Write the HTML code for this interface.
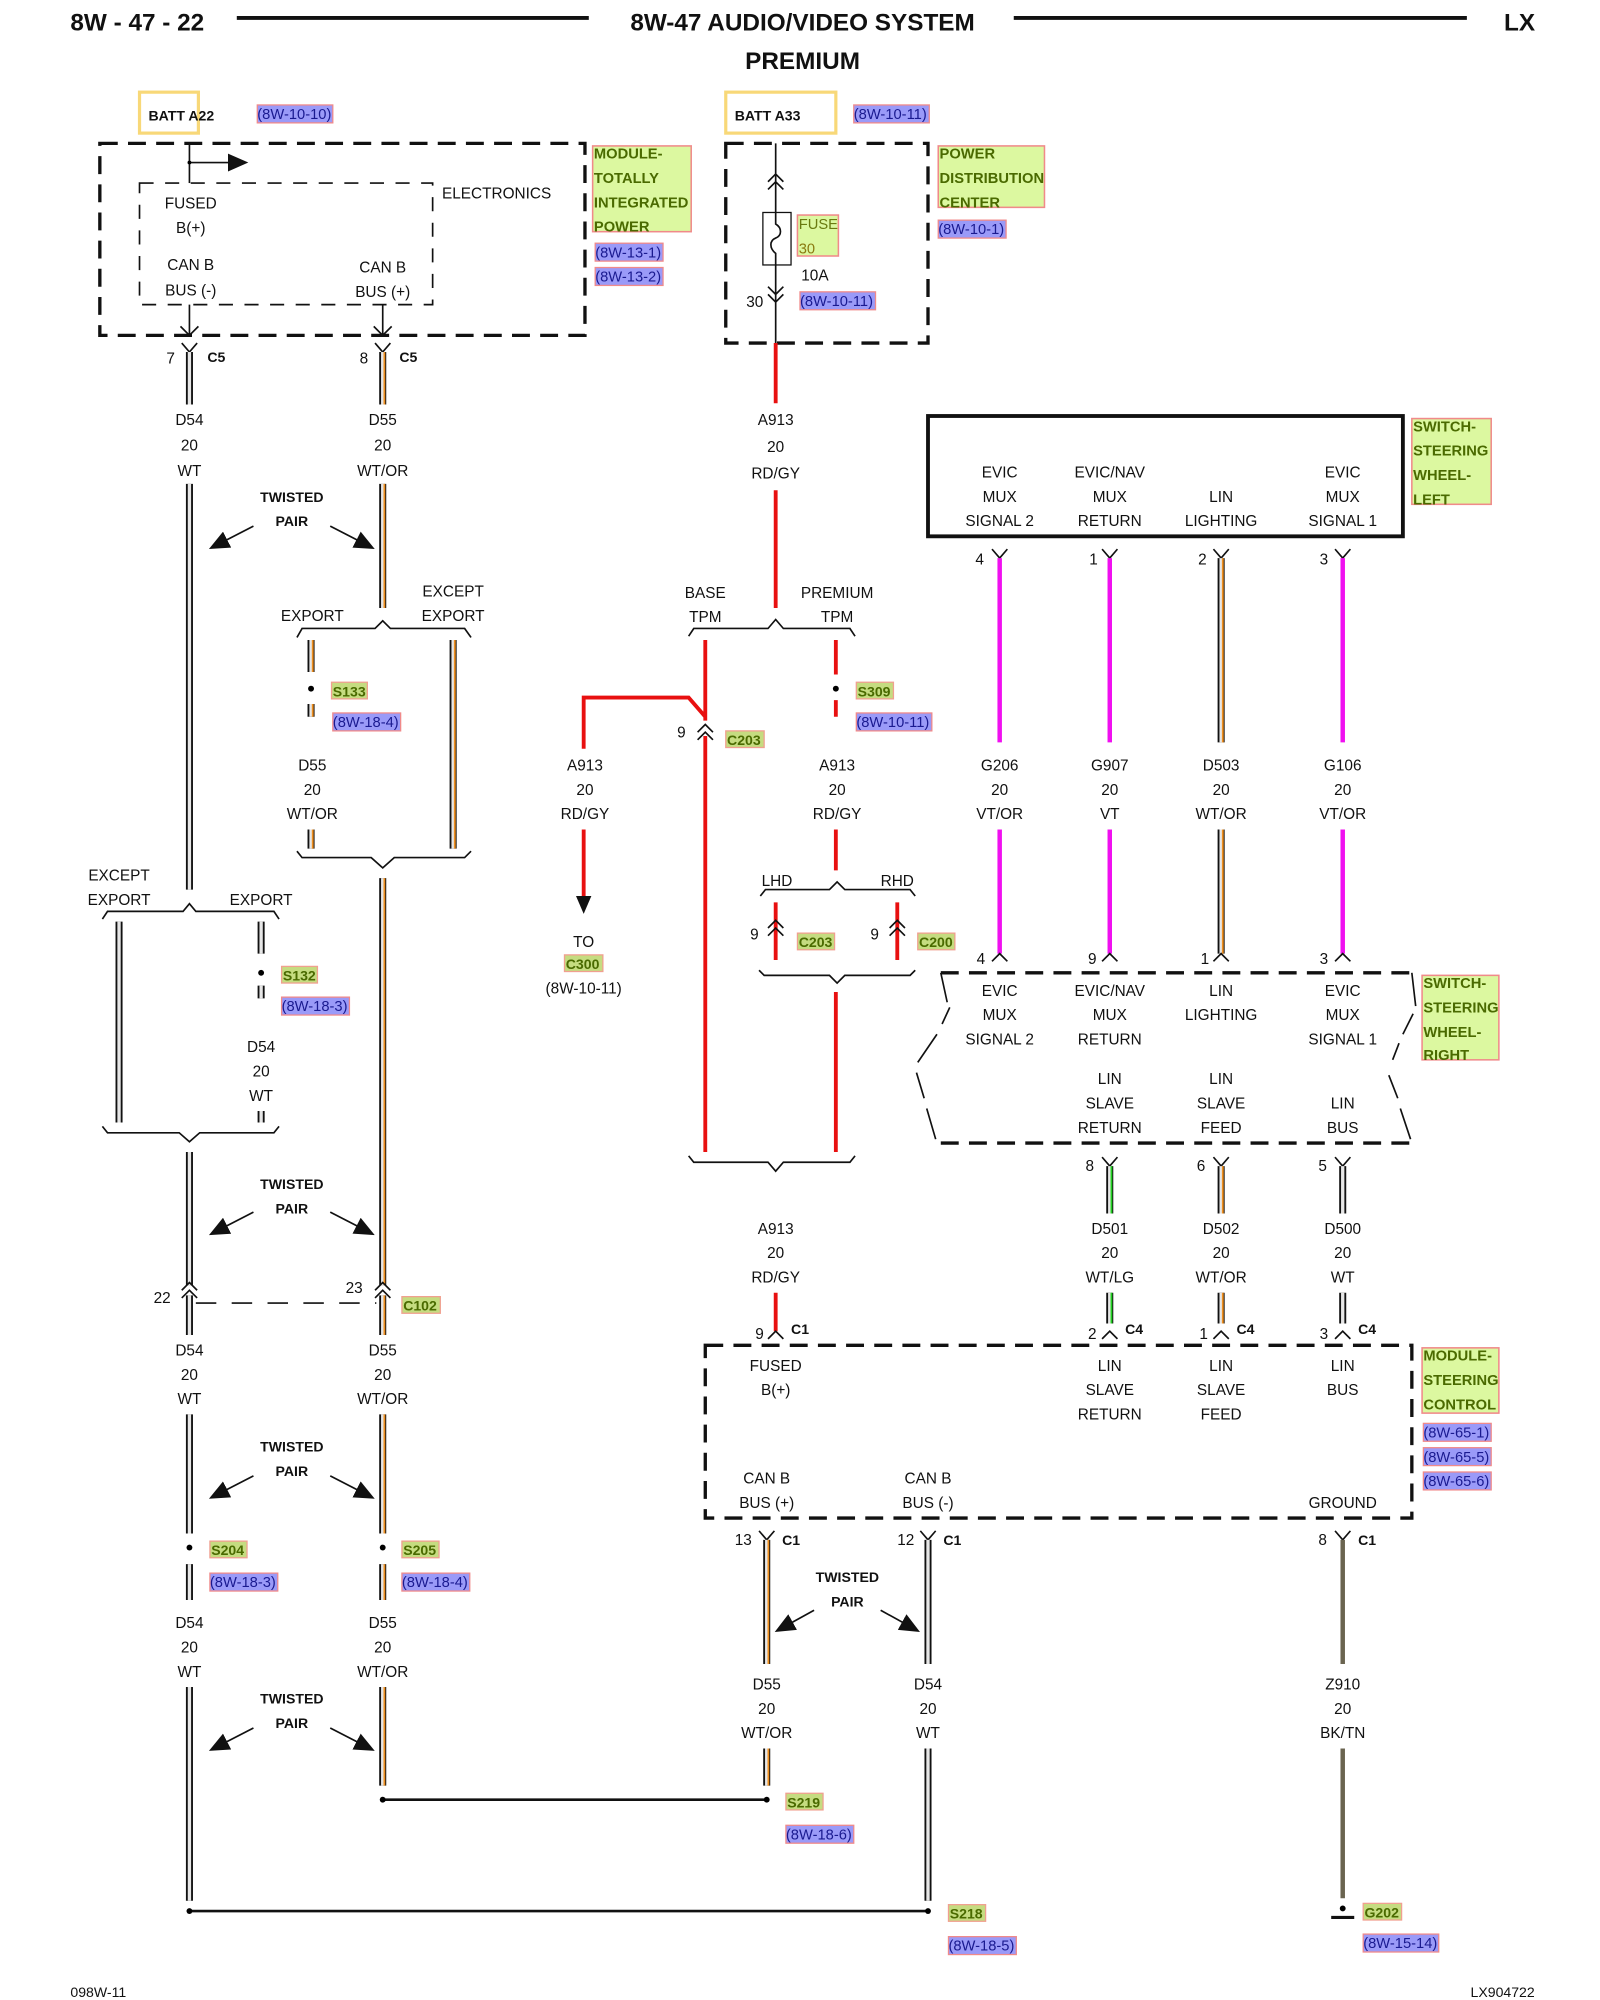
<!DOCTYPE html>
<html><head><meta charset="utf-8"><style>
html,body{margin:0;padding:0;background:#fff}
svg{display:block}
text{font-family:"Liberation Sans",Arial,sans-serif;font-size:12px;fill:#111}
.c{text-anchor:middle}
.b{font-weight:bold}
.h{font-size:19px;font-weight:bold}
.k{stroke:#111;stroke-width:5.5;fill:none}
.w{stroke:#e6e6e6;stroke-width:2.6;fill:none}
.o{stroke:#f09020;stroke-width:1.4;fill:none}
.g{stroke:#20d020;stroke-width:1.4;fill:none}
.r{stroke:#e81010;stroke-width:3;fill:none}
.m{stroke:#f010f0;stroke-width:3.5;fill:none}
.bt{stroke:#6a6450;stroke-width:3.5;fill:none}
.ln{stroke:#111;stroke-width:1.3;fill:none}
.ref rect{fill:#9a9af8;stroke:#f08a8a;stroke-width:1}
.ref text{fill:#1a1a90;font-size:11.5px}
.sp rect{fill:#c5dc80;stroke:#f0a090;stroke-width:1}
.sp text{fill:#4a6a00;font-size:11px;font-weight:bold}
.gl rect{fill:#dcf8a0;stroke:#f08a8a;stroke-width:1.2}
.gl text{fill:#4a6a00;font-size:11.5px;font-weight:bold}
.dsh{stroke:#111;stroke-width:2.6;fill:none;stroke-dasharray:14 8}
.dsh2{stroke:#111;stroke-width:1.3;fill:none;stroke-dasharray:11 9}
</style></head><body>
<svg width="1600" height="2000" viewBox="0 0 1250 1562.5" preserveAspectRatio="none" xmlns="http://www.w3.org/2000/svg">
<defs>
<marker id="ah2" markerWidth="16" markerHeight="14" refX="14" refY="7" orient="auto" markerUnits="userSpaceOnUse"><path d="M0,0 L16,7 L0,14 z" fill="#111"/></marker>
</defs>
<text x="55" y="24" class="h">8W - 47 - 22</text>
<line x1="185" y1="14" x2="460" y2="14" stroke="#111" stroke-width="3"/>
<text x="627" y="24" class="h c">8W-47 AUDIO/VIDEO SYSTEM</text>
<line x1="792" y1="14" x2="1146" y2="14" stroke="#111" stroke-width="3"/>
<text x="1175" y="24" class="h">LX</text>
<text x="627" y="54" class="h c">PREMIUM</text>

<rect x="109" y="72" width="46" height="32" fill="none" stroke="#f8d878" stroke-width="2.5"/>
<text x="116" y="94" class="b" style="font-size:11px">BATT A22</text>
<g class="ref"><rect x="201" y="82" width="59" height="14"/><text x="201" y="93">(8W-10-10)</text></g>
<rect x="78" y="112" width="379" height="150" class="dsh"/>
<rect x="109" y="143" width="229" height="95" class="dsh2"/>
<line x1="148" y1="112" x2="148" y2="143" class="ln"/>
<line x1="148" y1="127" x2="192" y2="127" class="ln" marker-end="url(#ah2)"/>
<circle cx="148" cy="127" r="1.5"/>
<text x="149" y="163" class="c">FUSED</text><text x="149" y="182" class="c">B(+)</text>
<text x="149" y="211" class="c">CAN B</text><text x="149" y="231" class="c">BUS (-)</text>
<text x="299" y="213" class="c">CAN B</text><text x="299" y="232" class="c">BUS (+)</text>
<text x="388" y="155" class="c">ELECTRONICS</text>
<path d="M148 238V262M141 255L148 262L155 255M299 238V262M292 255L299 262L306 255" class="ln"/>
<g class="gl"><rect x="463" y="114" width="77" height="67"/><text x="464" y="124">MODULE-</text><text x="464" y="143">TOTALLY</text><text x="464" y="162">INTEGRATED</text><text x="464" y="181">POWER</text></g>
<g class="ref"><rect x="465" y="190" width="53" height="14"/><text x="465" y="201">(8W-13-1)</text><rect x="465" y="209" width="53" height="14"/><text x="465" y="220">(8W-13-2)</text></g>

<path d="M142 268L148 275L154 268M293 268L299 275L305 268" class="ln"/>
<text x="130" y="284">7</text><text x="162" y="283" class="b" style="font-size:11px">C5</text>
<text x="281" y="284">8</text><text x="312" y="283" class="b" style="font-size:11px">C5</text>

<path d="M148 275V316M148 378V695M148 900V1004M148 1012V1043M148 1105V1198M148 1318V1485" class="k"/>
<path d="M148 275V316M148 378V695M148 900V1004M148 1012V1043M148 1105V1198M148 1318V1485" class="w"/>
<path d="M299 275V316M299 378V475M299 686V1004M299 1012V1043M299 1105V1198M299 1318V1395" class="k"/>
<path d="M299 275V316M299 378V475M299 686V1004M299 1012V1043M299 1105V1198M299 1318V1395" class="w"/>
<path d="M300.3 275V316M300.3 378V475M300.3 686V1004M300.3 1012V1043M300.3 1105V1198M300.3 1318V1395" class="o"/>
<text x="148" y="332" class="c">D54</text><text x="148" y="352" class="c">20</text><text x="148" y="372" class="c">WT</text>
<text x="299" y="332" class="c">D55</text><text x="299" y="352" class="c">20</text><text x="299" y="372" class="c">WT/OR</text>

<g>
<text x="228" y="392" class="c b" style="font-size:11px">TWISTED</text><text x="228" y="411" class="c b" style="font-size:11px">PAIR</text>
<line x1="198" y1="411" x2="165" y2="428" class="ln" marker-end="url(#ah2)"/><line x1="258" y1="411" x2="291" y2="428" class="ln" marker-end="url(#ah2)"/>
<text x="228" y="929" class="c b" style="font-size:11px">TWISTED</text><text x="228" y="948" class="c b" style="font-size:11px">PAIR</text>
<line x1="198" y1="947" x2="165" y2="964" class="ln" marker-end="url(#ah2)"/><line x1="258" y1="947" x2="291" y2="964" class="ln" marker-end="url(#ah2)"/>
<text x="228" y="1134" class="c b" style="font-size:11px">TWISTED</text><text x="228" y="1153" class="c b" style="font-size:11px">PAIR</text>
<line x1="198" y1="1153" x2="165" y2="1170" class="ln" marker-end="url(#ah2)"/><line x1="258" y1="1153" x2="291" y2="1170" class="ln" marker-end="url(#ah2)"/>
<text x="228" y="1331" class="c b" style="font-size:11px">TWISTED</text><text x="228" y="1350" class="c b" style="font-size:11px">PAIR</text>
<line x1="198" y1="1350" x2="165" y2="1367" class="ln" marker-end="url(#ah2)"/><line x1="258" y1="1350" x2="291" y2="1367" class="ln" marker-end="url(#ah2)"/>
</g>

<text x="244" y="485" class="c">EXPORT</text><text x="354" y="466" class="c">EXCEPT</text><text x="354" y="485" class="c">EXPORT</text>
<path d="M232 498L236 491H293L299 485L305 491H363L368 498" class="ln"/>
<path d="M243 500V525M243 550V560M243 648V663M354 500V663" class="k"/>
<path d="M243 500V525M243 550V560M243 648V663M354 500V663" class="w"/>
<path d="M244.3 500V525M244.3 550V560M244.3 648V663M355.3 500V663" class="o"/>
<circle cx="243" cy="538" r="2.3"/>
<g class="sp"><rect x="259" y="533" width="28" height="13"/><text x="260" y="544">S133</text></g>
<g class="ref"><rect x="260" y="557" width="53" height="14"/><text x="260" y="568">(8W-18-4)</text></g>
<text x="244" y="602" class="c">D55</text><text x="244" y="621" class="c">20</text><text x="244" y="640" class="c">WT/OR</text>
<path d="M232 665L236 670H290L299 678L308 670H363L368 665" class="ln"/>

<text x="93" y="688" class="c">EXCEPT</text><text x="93" y="707" class="c">EXPORT</text><text x="204" y="707" class="c">EXPORT</text>
<path d="M80 718L84 712H143L148 706L153 712H214L218 718" class="ln"/>
<path d="M93 720V877M204 720V745M204 770V780M204 868V877" class="k"/>
<path d="M93 720V877M204 720V745M204 770V780M204 868V877" class="w"/>
<circle cx="204" cy="760" r="2.3"/>
<g class="sp"><rect x="220" y="755" width="28" height="13"/><text x="221" y="766">S132</text></g>
<g class="ref"><rect x="220" y="779" width="53" height="14"/><text x="220" y="790">(8W-18-3)</text></g>
<text x="204" y="822" class="c">D54</text><text x="204" y="841" class="c">20</text><text x="204" y="860" class="c">WT</text>
<path d="M80 880L84 885H140L148 892L156 885H214L218 880" class="ln"/>

<path d="M142 1008L148 1002L154 1008M142 1014L148 1008L154 1014M293 1008L299 1002L305 1008M293 1014L299 1008L305 1014" class="ln"/>
<line x1="153" y1="1018" x2="294" y2="1018" class="ln" stroke-dasharray="16 12"/>
<text x="120" y="1018">22</text><text x="270" y="1010">23</text>
<g class="sp"><rect x="314" y="1013" width="30" height="13"/><text x="315" y="1024">C102</text></g>
<text x="148" y="1059" class="c">D54</text><text x="148" y="1078" class="c">20</text><text x="148" y="1097" class="c">WT</text>
<text x="299" y="1059" class="c">D55</text><text x="299" y="1078" class="c">20</text><text x="299" y="1097" class="c">WT/OR</text>
<rect x="143" y="1201" width="10" height="14" fill="#fff"/><rect x="294" y="1201" width="10" height="14" fill="#fff"/>
<circle cx="148" cy="1209" r="2.3"/><circle cx="299" cy="1209" r="2.3"/>
<path d="M148 1222V1250M299 1222V1250" class="k"/><path d="M148 1222V1250M299 1222V1250" class="w"/><path d="M300.3 1222V1250" class="o"/>
<rect x="120" y="1256" width="60" height="58" fill="#fff"/><rect x="270" y="1256" width="60" height="58" fill="#fff"/>
<g class="sp"><rect x="164" y="1204" width="29" height="13"/><text x="165" y="1215">S204</text><rect x="314" y="1204" width="29" height="13"/><text x="315" y="1215">S205</text></g>
<g class="ref"><rect x="164" y="1229" width="53" height="14"/><text x="164" y="1240">(8W-18-3)</text><rect x="314" y="1229" width="53" height="14"/><text x="314" y="1240">(8W-18-4)</text></g>
<text x="148" y="1272" class="c">D54</text><text x="148" y="1291" class="c">20</text><text x="148" y="1310" class="c">WT</text>
<text x="299" y="1272" class="c">D55</text><text x="299" y="1291" class="c">20</text><text x="299" y="1310" class="c">WT/OR</text>
<line x1="299" y1="1406" x2="599" y2="1406" stroke="#111" stroke-width="2"/>
<circle cx="299" cy="1406" r="2.3"/><circle cx="599" cy="1406" r="2.3"/>
<line x1="148" y1="1493" x2="725" y2="1493" stroke="#111" stroke-width="2"/>
<circle cx="148" cy="1493" r="2.3"/><circle cx="725" cy="1493" r="2.3"/>

<rect x="567" y="72" width="86" height="32" fill="none" stroke="#f8d878" stroke-width="2.5"/>
<text x="574" y="94" class="b" style="font-size:11px">BATT A33</text>
<g class="ref"><rect x="667" y="82" width="59" height="14"/><text x="667" y="93">(8W-10-11)</text></g>
<rect x="567" y="112" width="158" height="156" class="dsh"/>
<line x1="606" y1="112" x2="606" y2="268" class="ln"/>
<path d="M600 142L606 136L612 142M600 148L606 142L612 148" class="ln"/>
<rect x="596" y="166" width="22" height="41" fill="#fff" stroke="#111" stroke-width="1"/>
<path d="M606 166V175C611 178 611 184 606 186C601 188 601 194 606 198V207" class="ln"/>
<path d="M600 224L606 230L612 224M600 230L606 236L612 230" class="ln"/>
<g class="gl"><rect x="623" y="168" width="32" height="32"/><text x="624" y="179" style="font-weight:normal;fill:#6a7a10">FUSE</text><text x="624" y="198" style="font-weight:normal;fill:#8a7a10">30</text></g>
<text x="626" y="219">10A</text><text x="583" y="240">30</text>
<g class="ref"><rect x="625" y="228" width="59" height="14"/><text x="625" y="239">(8W-10-11)</text></g>
<g class="gl"><rect x="733" y="114" width="83" height="48"/><text x="734" y="124">POWER</text><text x="734" y="143">DISTRIBUTION</text><text x="734" y="162">CENTER</text></g>
<g class="ref"><rect x="733" y="172" width="53" height="14"/><text x="733" y="183">(8W-10-1)</text></g>

<path d="M606 268V315M606 383V475M551 500V563M551 575V900M653 500V527M653 547V560M653 648V680M606 705V750M701 705V750M653 775V900M606 1010V1040M456 648V700M456 585V545H538L551 560" class="r"/>
<polygon points="450,700 462,700 456,714" fill="#111"/>
<text x="606" y="332" class="c">A913</text><text x="606" y="353" class="c">20</text><text x="606" y="374" class="c">RD/GY</text>
<text x="551" y="467" class="c">BASE</text><text x="551" y="486" class="c">TPM</text>
<text x="654" y="467" class="c">PREMIUM</text><text x="654" y="486" class="c">TPM</text>
<path d="M538 497L542 491H600L606 484L612 491H664L668 497" class="ln"/>
<path d="M545 572L551 566L557 572M545 578L551 572L557 578" class="ln"/>
<text x="529" y="576">9</text>
<g class="sp"><rect x="567" y="571" width="30" height="13"/><text x="568" y="582">C203</text></g>
<circle cx="653" cy="538" r="2.3"/>
<g class="sp"><rect x="669" y="533" width="29" height="13"/><text x="670" y="544">S309</text></g>
<g class="ref"><rect x="669" y="557" width="59" height="14"/><text x="669" y="568">(8W-10-11)</text></g>
<text x="457" y="602" class="c">A913</text><text x="457" y="621" class="c">20</text><text x="457" y="640" class="c">RD/GY</text>
<text x="654" y="602" class="c">A913</text><text x="654" y="621" class="c">20</text><text x="654" y="640" class="c">RD/GY</text>
<text x="456" y="740" class="c">TO</text>
<g class="sp"><rect x="441" y="746" width="30" height="13"/><text x="442" y="757">C300</text></g>
<text x="456" y="776" class="c">(8W-10-11)</text>
<text x="607" y="692" class="c">LHD</text><text x="701" y="692" class="c">RHD</text>
<path d="M594 700L598 695H648L654 689L660 695H711L715 700" class="ln"/>
<path d="M600 725L606 719L612 725M600 731L606 725L612 731M695 725L701 719L707 725M695 731L701 725L707 731" class="ln"/>
<text x="586" y="734">9</text><text x="680" y="734">9</text>
<g class="sp"><rect x="623" y="729" width="29" height="13"/><text x="624" y="740">C203</text><rect x="717" y="729" width="29" height="13"/><text x="718" y="740">C200</text></g>
<path d="M593 758L597 762H648L654 768L660 762H711L715 758" class="ln"/>
<path d="M538 903L542 908H600L606 915L612 908H664L668 903" class="ln"/>
<text x="606" y="964" class="c">A913</text><text x="606" y="983" class="c">20</text><text x="606" y="1002" class="c">RD/GY</text>
<path d="M600 1046L606 1040L612 1046" class="ln"/>
<text x="590" y="1046">9</text><text x="618" y="1042" class="b" style="font-size:11px">C1</text>

<rect x="725" y="325" width="371" height="94" fill="none" stroke="#111" stroke-width="3"/>
<text x="781" y="373" class="c">EVIC</text><text x="781" y="392" class="c">MUX</text><text x="781" y="411" class="c">SIGNAL 2</text>
<text x="867" y="373" class="c">EVIC/NAV</text><text x="867" y="392" class="c">MUX</text><text x="867" y="411" class="c">RETURN</text>
<text x="954" y="392" class="c">LIN</text><text x="954" y="411" class="c">LIGHTING</text>
<text x="1049" y="373" class="c">EVIC</text><text x="1049" y="392" class="c">MUX</text><text x="1049" y="411" class="c">SIGNAL 1</text>
<g class="gl"><rect x="1103" y="327" width="62" height="67"/><text x="1104" y="337">SWITCH-</text><text x="1104" y="356">STEERING</text><text x="1104" y="375">WHEEL-</text><text x="1104" y="394">LEFT</text></g>
<path d="M775 429L781 436L787 429M861 429L867 436L873 429M948 429L954 436L960 429M1043 429L1049 436L1055 429" class="ln"/>
<text x="762" y="441">4</text><text x="851" y="441">1</text><text x="936" y="441">2</text><text x="1031" y="441">3</text>
<path d="M781 436V580M867 436V580M1049 436V580M781 648V745M867 648V745M1049 648V745" class="m"/>
<path d="M954 436V580M954 648V745" class="k"/><path d="M954 436V580M954 648V745" class="w"/><path d="M955.3 436V580M955.3 648V745" class="o"/>
<text x="781" y="602" class="c">G206</text><text x="781" y="621" class="c">20</text><text x="781" y="640" class="c">VT/OR</text>
<text x="867" y="602" class="c">G907</text><text x="867" y="621" class="c">20</text><text x="867" y="640" class="c">VT</text>
<text x="954" y="602" class="c">D503</text><text x="954" y="621" class="c">20</text><text x="954" y="640" class="c">WT/OR</text>
<text x="1049" y="602" class="c">G106</text><text x="1049" y="621" class="c">20</text><text x="1049" y="640" class="c">VT/OR</text>
<path d="M775 751L781 745L787 751M861 751L867 745L873 751M948 751L954 745L960 751M1043 751L1049 745L1055 751" class="ln"/>
<text x="763" y="753">4</text><text x="850" y="753">9</text><text x="938" y="753">1</text><text x="1031" y="753">3</text>

<line x1="735" y1="760" x2="1103" y2="760" class="dsh"/>
<line x1="735" y1="893" x2="1103" y2="893" class="dsh"/>
<path d="M735 760L740 783M742 787L736 800M732 808L717 830M716 838L722 858M724 866L731 890" class="ln"/>
<path d="M1103 760L1106 786M1104 792L1096 808M1093 815L1088 828M1085 840L1092 858M1094 866L1102 890" class="ln"/>
<text x="781" y="778" class="c">EVIC</text><text x="781" y="797" class="c">MUX</text><text x="781" y="816" class="c">SIGNAL 2</text>
<text x="867" y="778" class="c">EVIC/NAV</text><text x="867" y="797" class="c">MUX</text><text x="867" y="816" class="c">RETURN</text>
<text x="954" y="778" class="c">LIN</text><text x="954" y="797" class="c">LIGHTING</text>
<text x="1049" y="778" class="c">EVIC</text><text x="1049" y="797" class="c">MUX</text><text x="1049" y="816" class="c">SIGNAL 1</text>
<text x="867" y="847" class="c">LIN</text><text x="867" y="866" class="c">SLAVE</text><text x="867" y="885" class="c">RETURN</text>
<text x="954" y="847" class="c">LIN</text><text x="954" y="866" class="c">SLAVE</text><text x="954" y="885" class="c">FEED</text>
<text x="1049" y="866" class="c">LIN</text><text x="1049" y="885" class="c">BUS</text>
<g class="gl"><rect x="1111" y="762" width="60" height="66"/><text x="1112" y="772">SWITCH-</text><text x="1112" y="791">STEERING</text><text x="1112" y="810">WHEEL-</text><text x="1112" y="828">RIGHT</text></g>
<path d="M861 904L867 911L873 904M948 904L954 911L960 904M1043 904L1049 911L1055 904" class="ln"/>
<text x="848" y="915">8</text><text x="935" y="915">6</text><text x="1030" y="915">5</text>
<path d="M867 911V948M954 911V948M1049 911V948M867 1010V1034M954 1010V1034M1049 1010V1034" class="k"/>
<path d="M867 911V948M954 911V948M1049 911V948M867 1010V1034M954 1010V1034M1049 1010V1034" class="w"/>
<path d="M868.3 911V948M868.3 1010V1034" class="g"/><path d="M955.3 911V948M955.3 1010V1034" class="o"/>
<text x="867" y="964" class="c">D501</text><text x="867" y="983" class="c">20</text><text x="867" y="1002" class="c">WT/LG</text>
<text x="954" y="964" class="c">D502</text><text x="954" y="983" class="c">20</text><text x="954" y="1002" class="c">WT/OR</text>
<text x="1049" y="964" class="c">D500</text><text x="1049" y="983" class="c">20</text><text x="1049" y="1002" class="c">WT</text>
<path d="M861 1046L867 1040L873 1046M948 1046L954 1040L960 1046M1043 1046L1049 1040L1055 1046" class="ln"/>
<text x="850" y="1046">2</text><text x="937" y="1046">1</text><text x="1031" y="1046">3</text>
<text x="879" y="1042" class="b" style="font-size:11px">C4</text><text x="966" y="1042" class="b" style="font-size:11px">C4</text><text x="1061" y="1042" class="b" style="font-size:11px">C4</text>

<rect x="551" y="1051" width="552" height="135" class="dsh"/>
<text x="606" y="1071" class="c">FUSED</text><text x="606" y="1090" class="c">B(+)</text>
<text x="867" y="1071" class="c">LIN</text><text x="867" y="1090" class="c">SLAVE</text><text x="867" y="1109" class="c">RETURN</text>
<text x="954" y="1071" class="c">LIN</text><text x="954" y="1090" class="c">SLAVE</text><text x="954" y="1109" class="c">FEED</text>
<text x="1049" y="1071" class="c">LIN</text><text x="1049" y="1090" class="c">BUS</text>
<text x="599" y="1159" class="c">CAN B</text><text x="599" y="1178" class="c">BUS (+)</text>
<text x="725" y="1159" class="c">CAN B</text><text x="725" y="1178" class="c">BUS (-)</text>
<text x="1049" y="1178" class="c">GROUND</text>
<g class="gl"><rect x="1111" y="1053" width="60" height="51"/><text x="1112" y="1063">MODULE-</text><text x="1112" y="1082">STEERING</text><text x="1112" y="1101">CONTROL</text></g>
<g class="ref"><rect x="1112" y="1112" width="53" height="14"/><text x="1112" y="1123">(8W-65-1)</text><rect x="1112" y="1131" width="53" height="14"/><text x="1112" y="1142">(8W-65-5)</text><rect x="1112" y="1150" width="53" height="14"/><text x="1112" y="1161">(8W-65-6)</text></g>
<path d="M593 1196L599 1203L605 1196M719 1196L725 1203L731 1196M1043 1196L1049 1203L1055 1196" class="ln"/>
<text x="574" y="1207">13</text><text x="701" y="1207">12</text><text x="1030" y="1207">8</text>
<text x="611" y="1207" class="b" style="font-size:11px">C1</text><text x="737" y="1207" class="b" style="font-size:11px">C1</text><text x="1061" y="1207" class="b" style="font-size:11px">C1</text>
<path d="M599 1203V1300M599 1366V1395M725 1203V1300M725 1366V1485" class="k"/>
<path d="M599 1203V1300M599 1366V1395M725 1203V1300M725 1366V1485" class="w"/>
<path d="M600.3 1203V1300M600.3 1366V1395" class="o"/>
<path d="M1049 1203V1300M1049 1366V1483" class="bt"/>
<text x="662" y="1236" class="c b" style="font-size:11px">TWISTED</text><text x="662" y="1255" class="c b" style="font-size:11px">PAIR</text>
<line x1="636" y1="1258" x2="607" y2="1274" class="ln" marker-end="url(#ah2)"/><line x1="688" y1="1258" x2="717" y2="1274" class="ln" marker-end="url(#ah2)"/>
<text x="599" y="1320" class="c">D55</text><text x="599" y="1339" class="c">20</text><text x="599" y="1358" class="c">WT/OR</text>
<text x="725" y="1320" class="c">D54</text><text x="725" y="1339" class="c">20</text><text x="725" y="1358" class="c">WT</text>
<text x="1049" y="1320" class="c">Z910</text><text x="1049" y="1339" class="c">20</text><text x="1049" y="1358" class="c">BK/TN</text>
<g class="sp"><rect x="614" y="1401" width="29" height="13"/><text x="615" y="1412">S219</text><rect x="741" y="1488" width="29" height="13"/><text x="742" y="1499">S218</text><rect x="1065" y="1487" width="30" height="13"/><text x="1066" y="1498">G202</text></g>
<g class="ref"><rect x="614" y="1426" width="53" height="14"/><text x="614" y="1437">(8W-18-6)</text><rect x="741" y="1513" width="53" height="14"/><text x="741" y="1524">(8W-18-5)</text><rect x="1065" y="1511" width="59" height="14"/><text x="1065" y="1522">(8W-15-14)</text></g>
<circle cx="1049" cy="1491" r="2.3"/>
<line x1="1040" y1="1498" x2="1058" y2="1498" stroke="#111" stroke-width="2.5"/>

<text x="55" y="1560" style="font-size:11px">098W-11</text>
<text x="1199" y="1560" style="font-size:11px;text-anchor:end">LX904722</text>
</svg>
</body></html>
